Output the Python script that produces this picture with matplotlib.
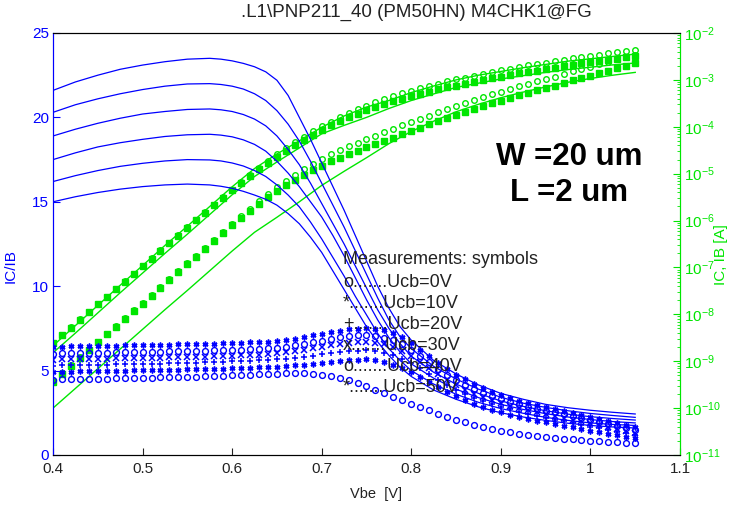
import numpy as np
import matplotlib
matplotlib.use("Agg")
import matplotlib.pyplot as plt
from matplotlib.ticker import LogLocator, NullFormatter

plt.rcParams["font.family"] = ["Liberation Sans", "DejaVu Sans"]
plt.rcParams["mathtext.fontset"] = "custom"
plt.rcParams["mathtext.rm"] = "Liberation Sans"
plt.rcParams["mathtext.it"] = "Liberation Sans:italic"
plt.rcParams["mathtext.bf"] = "Liberation Sans:bold"

BLUE = "#0000ff"
GREEN = "#00e600"
TXT = "#222222"

# ---------------- data ----------------
# grids (V): simulated gain, simulated currents, measurements
vbe_beta = [0.400, 0.425, 0.450, 0.475, 0.500, 0.525, 0.550, 0.575, 0.5875, 0.600, 0.6125, 0.625,
            0.6375, 0.650, 0.6625, 0.675, 0.6875, 0.700, 0.7125, 0.725, 0.7375, 0.750, 0.7625,
            0.775, 0.7875, 0.800, 0.825, 0.850, 0.875, 0.900, 0.925, 0.950, 0.975, 1.000,
            1.025, 1.050]
vbe_sim = np.round(np.arange(0.40, 1.0501, 0.025), 3)
vbe_meas = np.round(np.arange(0.40, 1.0501, 0.01), 2)

# simulated IC/IB, Ucb = 0..50 V
beta_sim_0 = [15.0, 15.3, 15.55, 15.75, 15.9, 16.0, 16.05, 16.0, 15.92, 15.8, 15.62, 15.4, 15.15, 14.8,
              14.3, 13.7, 12.9, 12.0, 10.9, 9.8, 8.7, 7.6, 6.7, 5.9, 5.2, 4.65, 3.85, 3.3, 2.85, 2.5,
              2.25, 2.05, 1.88, 1.75, 1.66, 1.6]
beta_sim_10 = [16.2, 16.55, 16.85, 17.1, 17.28, 17.42, 17.5, 17.48, 17.42, 17.3, 17.12, 16.85, 16.5,
               16.0, 15.4, 14.7, 13.8, 12.8, 11.7, 10.6, 9.4, 8.3, 7.2, 6.3, 5.6, 5.0, 4.2, 3.6, 3.12,
               2.75, 2.47, 2.23, 2.05, 1.9, 1.81, 1.75]
beta_sim_20 = [17.5, 17.9, 18.25, 18.5, 18.7, 18.87, 18.97, 19.0, 18.95, 18.85, 18.67, 18.4, 18.0,
               17.4, 16.7, 15.9, 15.0, 14.1, 13.0, 11.8, 10.5, 9.2, 8.0, 6.95, 6.1, 5.4, 4.55, 3.9,
               3.4, 3.0, 2.7, 2.45, 2.25, 2.1, 1.98, 1.9]
beta_sim_30 = [18.9, 19.3, 19.65, 19.95, 20.2, 20.35, 20.47, 20.5, 20.45, 20.35, 20.17, 19.9, 19.5,
               18.9, 18.1, 17.2, 16.1, 14.9, 13.7, 12.5, 11.2, 9.9, 8.6, 7.5, 6.6, 5.85, 4.9, 4.2,
               3.65, 3.2, 2.88, 2.62, 2.42, 2.27, 2.16, 2.07]
beta_sim_40 = [20.3, 20.75, 21.1, 21.4, 21.65, 21.85, 21.98, 22.0, 21.95, 21.85, 21.68, 21.4, 21.0,
               20.4, 19.6, 18.6, 17.4, 16.1, 14.8, 13.5, 12.1, 10.7, 9.3, 8.0, 7.0, 6.3, 5.25, 4.5,
               3.9, 3.42, 3.07, 2.82, 2.62, 2.46, 2.34, 2.23]
beta_sim_50 = [21.6, 22.1, 22.5, 22.85, 23.1, 23.3, 23.45, 23.5, 23.45, 23.35, 23.2, 23.0, 22.7,
               22.2, 21.3, 20.0, 18.7, 17.3, 15.9, 14.5, 13.0, 11.5, 10.0, 8.7, 7.6, 6.8, 5.6, 4.8,
               4.15, 3.65, 3.3, 3.0, 2.8, 2.65, 2.53, 2.43]

# measured IC/IB
beta_meas_0 = [4.45, 4.48, 4.50, 4.50, 4.52, 4.52, 4.53, 4.55, 4.55, 4.56,
               4.57, 4.58, 4.60, 4.60, 4.62, 4.63, 4.65, 4.66, 4.68, 4.70,
               4.72, 4.74, 4.76, 4.78, 4.80, 4.82, 4.83, 4.84, 4.83, 4.80,
               4.75, 4.66, 4.55, 4.42, 4.25, 4.07, 3.87, 3.66, 3.45, 3.24,
               3.04, 2.84, 2.64, 2.45, 2.27, 2.10, 1.94, 1.80, 1.66, 1.54,
               1.44, 1.35, 1.27, 1.19, 1.12, 1.06, 1.00, 0.96, 0.92, 0.88,
               0.85, 0.82, 0.79, 0.76, 0.73, 0.70]
beta_meas_10 = [4.92, 4.93, 4.94, 4.95, 4.96, 4.97, 4.98, 4.99, 5.00, 5.01,
                5.02, 5.03, 5.04, 5.05, 5.06, 5.07, 5.08, 5.09, 5.10, 5.12,
                5.13, 5.15, 5.17, 5.19, 5.21, 5.24, 5.27, 5.31, 5.36, 5.41,
                5.47, 5.53, 5.58, 5.62, 5.65, 5.66, 5.62, 5.52, 5.36, 5.15,
                4.90, 4.62, 4.32, 4.02, 3.74, 3.48, 3.25, 3.04, 2.85, 2.68,
                2.53, 2.39, 2.26, 2.14, 2.03, 1.93, 1.83, 1.73, 1.63, 1.54,
                1.45, 1.36, 1.27, 1.18, 1.09, 1.00]
beta_meas_20 = [5.30, 5.31, 5.32, 5.33, 5.34, 5.35, 5.36, 5.37, 5.38, 5.39,
                5.40, 5.41, 5.42, 5.43, 5.44, 5.45, 5.47, 5.48, 5.50, 5.52,
                5.54, 5.56, 5.58, 5.60, 5.63, 5.66, 5.70, 5.76, 5.82, 5.89,
                5.96, 6.03, 6.10, 6.15, 6.18, 6.20, 6.16, 6.07, 5.92, 5.71,
                5.44, 5.13, 4.80, 4.47, 4.16, 3.88, 3.62, 3.39, 3.19, 3.01,
                2.85, 2.70, 2.57, 2.44, 2.32, 2.21, 2.10, 2.00, 1.90, 1.80,
                1.68, 1.58, 1.48, 1.39, 1.30, 1.21]
beta_meas_30 = [5.65, 5.66, 5.67, 5.68, 5.69, 5.70, 5.71, 5.72, 5.73, 5.74,
                5.75, 5.76, 5.77, 5.78, 5.79, 5.80, 5.82, 5.83, 5.85, 5.87,
                5.89, 5.91, 5.93, 5.95, 5.98, 6.02, 6.08, 6.15, 6.23, 6.32,
                6.41, 6.50, 6.58, 6.64, 6.68, 6.70, 6.66, 6.56, 6.40, 6.17,
                5.87, 5.52, 5.15, 4.79, 4.45, 4.14, 3.87, 3.63, 3.42, 3.23,
                3.06, 2.91, 2.77, 2.64, 2.52, 2.41, 2.30, 2.20, 2.10, 1.99,
                1.88, 1.77, 1.66, 1.55, 1.44, 1.33]
beta_meas_40 = [6.00, 6.02, 6.03, 6.04, 6.05, 6.06, 6.07, 6.08, 6.09, 6.10,
                6.11, 6.12, 6.13, 6.14, 6.15, 6.16, 6.17, 6.18, 6.20, 6.21,
                6.23, 6.25, 6.27, 6.29, 6.32, 6.36, 6.42, 6.50, 6.58, 6.68,
                6.78, 6.88, 6.97, 7.04, 7.08, 7.10, 7.06, 6.96, 6.80, 6.56,
                6.24, 5.86, 5.48, 5.10, 4.75, 4.43, 4.15, 3.90, 3.68, 3.48,
                3.30, 3.15, 3.00, 2.87, 2.75, 2.63, 2.52, 2.41, 2.30, 2.18,
                2.06, 1.94, 1.82, 1.70, 1.58, 1.46]
beta_meas_50 = [6.40, 6.42, 6.43, 6.44, 6.45, 6.46, 6.47, 6.48, 6.49, 6.50,
                6.51, 6.52, 6.53, 6.54, 6.55, 6.56, 6.57, 6.58, 6.60, 6.61,
                6.63, 6.65, 6.67, 6.69, 6.72, 6.76, 6.82, 6.90, 6.98, 7.08,
                7.18, 7.28, 7.37, 7.44, 7.48, 7.50, 7.47, 7.38, 7.25, 7.00,
                6.65, 6.25, 5.85, 5.45, 5.08, 4.76, 4.48, 4.22, 3.98, 3.75,
                3.55, 3.38, 3.22, 3.08, 2.95, 2.83, 2.71, 2.59, 2.47, 2.35,
                2.23, 2.11, 1.99, 1.87, 1.75, 1.63]

# currents, log10(A)
ib_sim_log = [-10.0, -9.58, -9.16, -8.74, -8.32, -7.9, -7.49, -7.07, -6.65, -6.25, -5.93, -5.6, -5.25,
              -4.95, -4.66, -4.36, -4.1, -3.88, -3.68, -3.52, -3.38, -3.26, -3.15, -3.05, -2.97, -2.9, -2.84]
ic_sim_hi_log = [-8.67, -8.24, -7.81, -7.38, -6.96, -6.53, -6.12, -5.70, -5.28, -4.89, -4.58, -4.30, -4.01,
                 -3.77, -3.58, -3.44, -3.27, -3.13, -3.00, -2.90, -2.82, -2.74, -2.67, -2.60, -2.55, -2.50, -2.45]
ic_sim_lo_log = [-8.82, -8.40, -7.97, -7.54, -7.12, -6.70, -6.29, -5.87, -5.45, -5.06, -4.75, -4.45, -4.15,
                 -3.97, -3.80, -3.61, -3.44, -3.30, -3.16, -3.07, -2.98, -2.91, -2.84, -2.78, -2.73, -2.68, -2.64]

ic_meas_hi_log = [-8.61, -8.44, -8.28, -8.11, -7.95, -7.78, -7.62, -7.46, -7.29, -7.13,
                  -6.96, -6.80, -6.63, -6.47, -6.31, -6.14, -5.98, -5.82, -5.66, -5.50,
                  -5.34, -5.18, -5.03, -4.88, -4.74, -4.58, -4.45, -4.33, -4.21, -4.10,
                  -3.99, -3.89, -3.80, -3.71, -3.63, -3.55, -3.48, -3.41, -3.35, -3.29,
                  -3.23, -3.18, -3.13, -3.08, -3.03, -2.99, -2.95, -2.91, -2.87, -2.83,
                  -2.79, -2.76, -2.72, -2.69, -2.66, -2.63, -2.60, -2.57, -2.54, -2.51,
                  -2.48, -2.46, -2.43, -2.41, -2.38, -2.36]
ic_meas_lo_log = [-8.62, -8.45, -8.29, -8.12, -7.96, -7.79, -7.63, -7.47, -7.30, -7.14,
                  -6.97, -6.81, -6.64, -6.48, -6.32, -6.15, -5.99, -5.83, -5.67, -5.51,
                  -5.35, -5.20, -5.05, -4.91, -4.77, -4.64, -4.51, -4.39, -4.28, -4.17,
                  -4.07, -3.97, -3.88, -3.80, -3.72, -3.65, -3.58, -3.52, -3.46, -3.40,
                  -3.35, -3.30, -3.25, -3.20, -3.16, -3.12, -3.08, -3.04, -3.00, -2.97,
                  -2.93, -2.90, -2.86, -2.83, -2.80, -2.77, -2.74, -2.71, -2.68, -2.65,
                  -2.62, -2.60, -2.57, -2.55, -2.52, -2.50]
ib_meas_lo_log = [-9.44, -9.27, -9.10, -8.94, -8.77, -8.60, -8.43, -8.27, -8.10, -7.93,
                  -7.77, -7.60, -7.43, -7.27, -7.10, -6.93, -6.77, -6.60, -6.43, -6.27,
                  -6.10, -5.94, -5.79, -5.64, -5.50, -5.37, -5.25, -5.13, -5.02, -4.92,
                  -4.83, -4.74, -4.66, -4.58, -4.51, -4.44, -4.37, -4.30, -4.23, -4.16,
                  -4.09, -4.02, -3.95, -3.88, -3.81, -3.74, -3.68, -3.62, -3.56, -3.50,
                  -3.44, -3.39, -3.33, -3.28, -3.22, -3.17, -3.12, -3.06, -3.01, -2.96,
                  -2.91, -2.85, -2.80, -2.75, -2.70, -2.65]
ib_meas_hi_log = [-9.42, -9.25, -9.08, -8.92, -8.75, -8.58, -8.41, -8.25, -8.08, -7.91,
                  -7.75, -7.58, -7.41, -7.25, -7.08, -6.91, -6.75, -6.58, -6.41, -6.25,
                  -6.08, -5.91, -5.75, -5.59, -5.44, -5.29, -5.15, -5.02, -4.90, -4.79,
                  -4.69, -4.59, -4.50, -4.42, -4.34, -4.26, -4.19, -4.12, -4.05, -3.97,
                  -3.90, -3.83, -3.76, -3.69, -3.62, -3.55, -3.49, -3.43, -3.37, -3.31,
                  -3.25, -3.20, -3.14, -3.09, -3.03, -2.98, -2.93, -2.87, -2.82, -2.77,
                  -2.72, -2.66, -2.61, -2.56, -2.51, -2.46]

x_ticks = [0.4, 0.5, 0.6, 0.7, 0.8, 0.9, 1.0, 1.1]
x_tick_labels = ["0.4", "0.5", "0.6", "0.7", "0.8", "0.9", "1", "1.1"]
y_ticks = [0, 5, 10, 15, 20, 25]
legend_lines = ["o.......Ucb=0V", "*.......Ucb=10V", "+.......Ucb=20V",
                "x.......Ucb=30V", "o.......Ucb=40V", "*.......Ucb=50V"]

# ---------------- figure ----------------
fig = plt.figure(figsize=(7.3, 5.05), dpi=100, facecolor="white")
ax = fig.add_axes([53 / 730, 50 / 505, 627 / 730, 422 / 505])
ax2 = ax.twinx()

# green: currents on log axis
ax2.set_yscale("log")
ax2.plot(vbe_sim, 10 ** np.array(ib_sim_log), color=GREEN, lw=1.0)
ax2.plot(vbe_sim, 10 ** np.array(ic_sim_lo_log), color=GREEN, lw=1.0)
ax2.plot(vbe_sim, 10 ** np.array(ic_sim_hi_log), color=GREEN, lw=1.0)
ax2.plot(vbe_meas, 10 ** np.array(ib_meas_hi_log), ls="none", marker="o", ms=4.0,
         mfc="none", mec=GREEN, mew=1.0)
ax2.plot(vbe_meas, 10 ** np.array(ib_meas_lo_log), ls="none", marker="s", ms=4.6,
         mfc=GREEN, mec=GREEN)
ax2.plot(vbe_meas, 10 ** np.array(ic_meas_hi_log), ls="none", marker="o", ms=4.0,
         mfc="none", mec=GREEN, mew=1.0)
ax2.plot(vbe_meas, 10 ** np.array(ic_meas_lo_log), ls="none", marker="s", ms=4.6,
         mfc=GREEN, mec=GREEN)
ax2.set_ylim(1e-11, 1e-2)

# blue: current gain on linear axis
for b in [beta_sim_0, beta_sim_10, beta_sim_20, beta_sim_30, beta_sim_40, beta_sim_50]:
    ax.plot(vbe_beta, b, color=BLUE, lw=0.9)

star = (6, 2, 0)
meas = [(beta_meas_0, "o"), (beta_meas_10, star), (beta_meas_20, "+"),
        (beta_meas_30, "x"), (beta_meas_40, "o"), (beta_meas_50, star)]
for vals, mk in meas:
    if mk == "o":
        ax.plot(vbe_meas, vals, ls="none", marker="o", ms=4.2, mfc="none",
                mec=BLUE, mew=1.0)
    else:
        ax.plot(vbe_meas, vals, ls="none", marker=mk, ms=4.2, color=BLUE, mew=1.1)

ax.set_zorder(ax2.get_zorder() + 1)
ax.patch.set_visible(False)

ax.set_xlim(0.4, 1.1)
ax.set_ylim(0, 25)
ax.set_xticks(x_ticks)
ax.set_xticklabels(x_tick_labels)
ax.set_yticks(y_ticks)
ax.tick_params(axis="x", direction="in", length=5, colors=TXT, labelsize=11, pad=5)
ax.tick_params(axis="y", direction="in", length=5, colors=BLUE, labelsize=11, pad=3)
ax.tick_params(top=False, right=False)

ax2.yaxis.set_major_locator(LogLocator(base=10, numticks=20))
ax2.yaxis.set_minor_locator(LogLocator(base=10, subs=np.arange(2, 10), numticks=20))
ax2.yaxis.set_minor_formatter(NullFormatter())
ax2.tick_params(axis="y", which="major", direction="in", length=5, colors=GREEN,
                labelsize=11, pad=3)
ax2.tick_params(axis="y", which="minor", direction="in", length=2.5, colors=GREEN)
for a in (ax, ax2):
    a.xaxis.offsetText.set_visible(False)
    a.yaxis.offsetText.set_visible(False)

ax.spines["left"].set_color(BLUE)
ax2.spines["left"].set_color(BLUE)
ax.spines["right"].set_color(GREEN)
ax2.spines["right"].set_color(GREEN)
for s in ["top", "bottom"]:
    ax.spines[s].set_color("black")
    ax2.spines[s].set_color("black")

ax.set_xlabel("Vbe  [V]", fontsize=10.5, color=TXT)
ax.xaxis.set_label_coords(0.515, -0.076)
ax.set_ylabel("IC/IB", fontsize=11, color=BLUE)
ax.yaxis.set_label_coords(-0.056, 0.448)
ax2.set_ylabel("IC, IB [A]", fontsize=11, color=GREEN)
ax2.yaxis.set_label_coords(1.054, 0.475)

fig.text(0.57, 0.976, ".L1\\PNP211_40 (PM50HN) M4CHK1@FG", fontsize=13.5,
         color=TXT, ha="center", va="center")

ax.text(0.823, 0.706, "W =20 um", transform=ax.transAxes, fontsize=22.5,
        fontweight="bold", ha="center", va="center", color="black")
ax.text(0.823, 0.621, "L =2 um", transform=ax.transAxes, fontsize=22.5,
        fontweight="bold", ha="center", va="center", color="black")

ax.text(0.4625, 0.464, "Measurements: symbols", transform=ax.transAxes,
        fontsize=13, color=TXT, ha="left", va="center")
for i, s in enumerate(legend_lines):
    ax.text(0.4625, 0.408 - i * 0.0494, s, transform=ax.transAxes,
            fontsize=13, color=TXT, ha="left", va="center")

fig.savefig("out.png", dpi=100, facecolor="white")
